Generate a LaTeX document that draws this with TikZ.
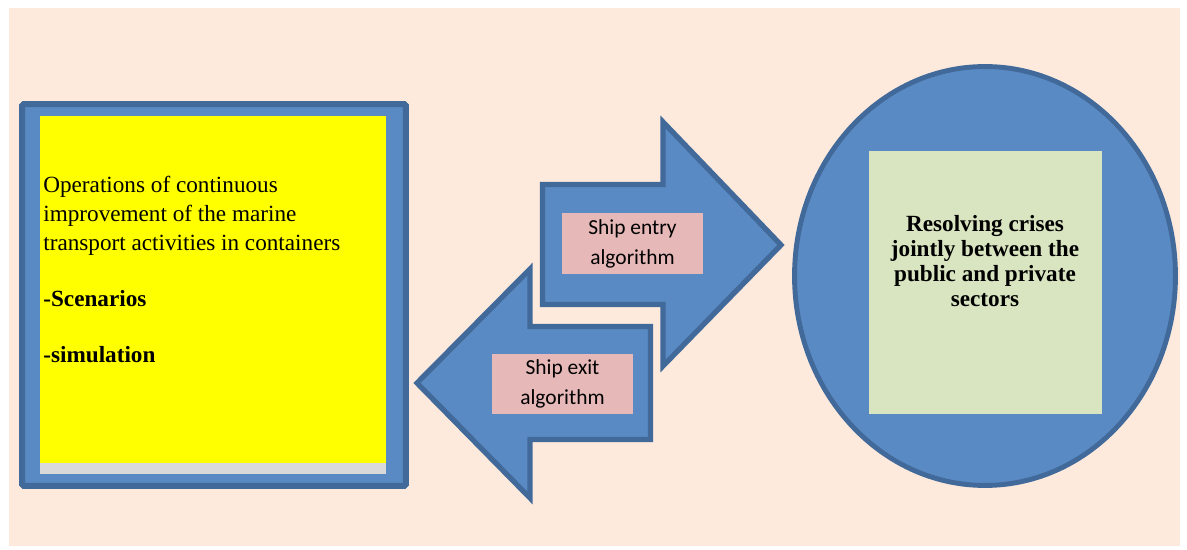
\documentclass[tikz,border=0pt]{standalone}
\usepackage{fontspec}
\setmainfont{Liberation Serif}
\newfontfamily\labelfont{Carlito}
\usetikzlibrary{shapes.geometric, positioning}
\definecolor{peach}{RGB}{253,234,220}
\definecolor{shapeblue}{RGB}{90,138,195}
\definecolor{edgeblue}{RGB}{65,105,154}
\definecolor{boxyellow}{RGB}{255,255,0}
\definecolor{boxgray}{RGB}{217,217,217}
\definecolor{labelpink}{RGB}{230,185,184}
\definecolor{boxgreen}{RGB}{217,228,192}
\tikzset{
  frame/.style={rectangle, draw=edgeblue, fill=shapeblue, line width=3.4pt,
    rounded corners=1pt, inner sep=0pt},
  bigarrow/.style={draw=edgeblue, fill=shapeblue, line width=3pt,
    line join=miter},
  algobox/.style={rectangle, fill=labelpink, inner sep=0pt,
    minimum width=2.82cm, minimum height=1.22cm, align=center,
    font=\labelfont\fontsize{12.2}{17}\selectfont},
  plainbox/.style={rectangle, inner sep=0pt},
}

\begin{document}
\begin{tikzpicture}[x=0.02cm, y=-0.02cm]
  \useasboundingbox (0,0) rectangle (1187,550);
  \fill[white] (0,0) rectangle (1187,550);
  \fill[peach] (9,8) rectangle (1180,546);

  % left panel
  \node[frame, minimum width=7.68cm, minimum height=7.64cm] (panel) at (214,295) {};
  \node[plainbox, fill=boxyellow, minimum width=6.92cm, minimum height=6.94cm] (ops) at (213,289.5) {};
  \node[plainbox, fill=boxgray, minimum width=6.92cm, minimum height=0.22cm] (opsfoot) at (213,468.5) {};
  \node[anchor=north west, inner sep=0pt, align=left,
        font=\fontsize{13.2}{16.5}\selectfont] (opstext) at (43,176)
    {Operations of continuous\\improvement of the marine\\transport activities in containers\\[15pt]
     \textbf{-Scenarios}\\[15.5pt]\textbf{-simulation}};

  % arrows
  \draw[bigarrow] (542.5,184.5) -- (663,184.5) -- (663,122) -- (781,245)
    -- (663,366) -- (663,304.5) -- (542.5,304.5) -- cycle;
  \draw[bigarrow] (650.5,326.5) -- (530,326.5) -- (530,269) -- (417,383)
    -- (530,498) -- (530,439.5) -- (650.5,439.5) -- cycle;
  \node[algobox] (entry) at (632.5,243.5) {Ship entry\\algorithm};
  \node[algobox] (exit)  at (562.5,384)   {Ship exit\\algorithm};

  % right circle
  \node[ellipse, draw=edgeblue, fill=shapeblue, line width=2.8pt, inner sep=0pt,
        minimum width=7.62cm, minimum height=8.38cm] (crisis) at (985,276) {};
  \node[plainbox, fill=boxgreen, minimum width=4.66cm, minimum height=5.26cm] (result) at (985.5,282.5) {};
  \node[align=center, inner sep=0pt, font=\bfseries\fontsize{13.2}{14.2}\selectfont]
    (resulttext) at (985,261) {Resolving crises\\jointly between the\\public and private\\sectors};
\end{tikzpicture}
\end{document}
